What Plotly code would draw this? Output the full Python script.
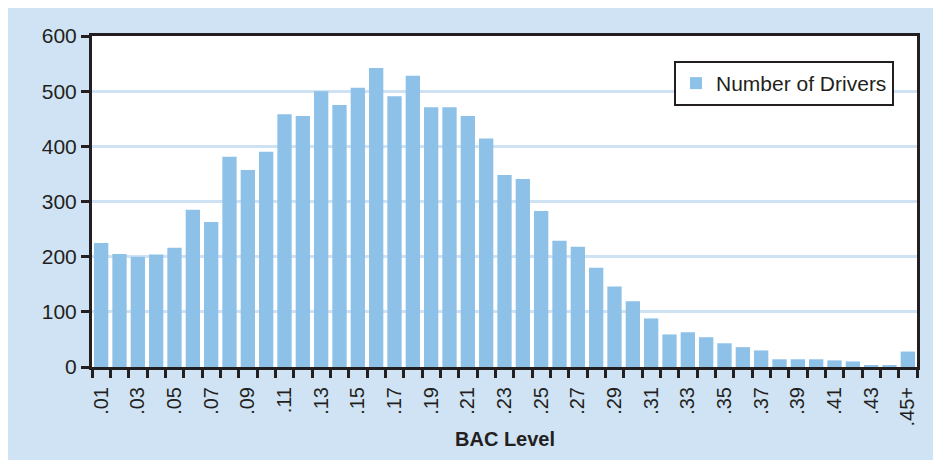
import plotly.graph_objects as go

categories = [".01", ".02", ".03", ".04", ".05", ".06", ".07", ".08", ".09", ".10",
              ".11", ".12", ".13", ".14", ".15", ".16", ".17", ".18", ".19", ".20",
              ".21", ".22", ".23", ".24", ".25", ".26", ".27", ".28", ".29", ".30",
              ".31", ".32", ".33", ".34", ".35", ".36", ".37", ".38", ".39", ".40",
              ".41", ".42", ".43", ".44", ".45+"]
drivers = [225, 205, 200, 204, 216, 285, 263, 381, 357, 390,
           458, 455, 500, 475, 506, 542, 491, 528, 471, 471,
           455, 414, 348, 341, 283, 229, 218, 180, 146, 119,
           88, 59, 63, 54, 43, 36, 30, 14, 14, 14,
           12, 10, 3, 3, 28]
series_name = "Number of Drivers"
x_title = "BAC Level"
y_ticks = [0, 100, 200, 300, 400, 500, 600]

positions = list(range(len(categories)))
label_pos = positions[0::2]
label_text = categories[0::2]
boundaries = [p - 0.5 for p in positions] + [positions[-1] + 0.5]

DARK = "#231F20"
BAR = "#8EC1E8"
BG = "#D0E3F4"
GRID = "#CFE2F4"
FONT = "Liberation Sans, Arial, sans-serif"

# page has an 8px body margin; figure sits at (8, 8)
OFF = 8
W, H = 941 - OFF, 460 - OFF
L, R, T, B = 84, 24, 28, 93
pw, ph = W - L - R, H - T - B

def px_x(x):
    return (x - OFF - L) / pw

def px_y(y):
    return (H - B - (y - OFF)) / ph

fig = go.Figure()
fig.add_trace(go.Bar(
    x=positions, y=drivers, name=series_name,
    marker=dict(color=BAR, line=dict(width=0)),
    width=0.78, customdata=categories,
    hovertemplate="%{customdata}: %{y}<extra></extra>",
    showlegend=True,
))

fig.update_layout(
    width=W, height=H,
    margin=dict(l=L, r=R, t=T, b=B, autoexpand=False),
    paper_bgcolor=BG, plot_bgcolor="white",
    font=dict(family=FONT, color=DARK, size=21),
    showlegend=True,
    legend=dict(
        x=px_x(894), xanchor="right", y=px_y(61), yanchor="top",
        bgcolor="white", bordercolor=DARK, borderwidth=2,
        font=dict(size=21, color=DARK, family=FONT),
    ),
    annotations=[
        dict(text="<b>" + x_title + "</b>", xref="paper", yref="paper",
             x=0.5, y=px_y(439), xanchor="center", yanchor="middle",
             showarrow=False, font=dict(size=20, color=DARK, family=FONT)),
    ],
)

fig.update_xaxes(
    range=[boundaries[0], boundaries[-1]],
    tickmode="array", tickvals=label_pos, ticktext=label_text,
    tickangle=-90, tickfont=dict(size=20, color=DARK, family=FONT),
    ticks="outside", ticklen=9, tickcolor="rgba(0,0,0,0)", tickwidth=1,
    minor=dict(tickmode="array", tickvals=boundaries, ticks="outside",
               ticklen=8, tickwidth=3, tickcolor=DARK, showgrid=False),
    showline=True, linecolor=DARK, linewidth=3, mirror=True,
    showgrid=False, zeroline=False, fixedrange=True,
)
fig.update_yaxes(
    range=[0, 600], tickmode="array", tickvals=y_ticks,
    ticks="outside", ticklen=8, tickwidth=3, tickcolor=DARK,
    tickfont=dict(size=21, color=DARK, family=FONT),
    showline=True, linecolor=DARK, linewidth=3, mirror=True,
    showgrid=True, gridcolor=GRID, gridwidth=2.5,
    zeroline=False, fixedrange=True,
)

fig.write_html("out.html")
